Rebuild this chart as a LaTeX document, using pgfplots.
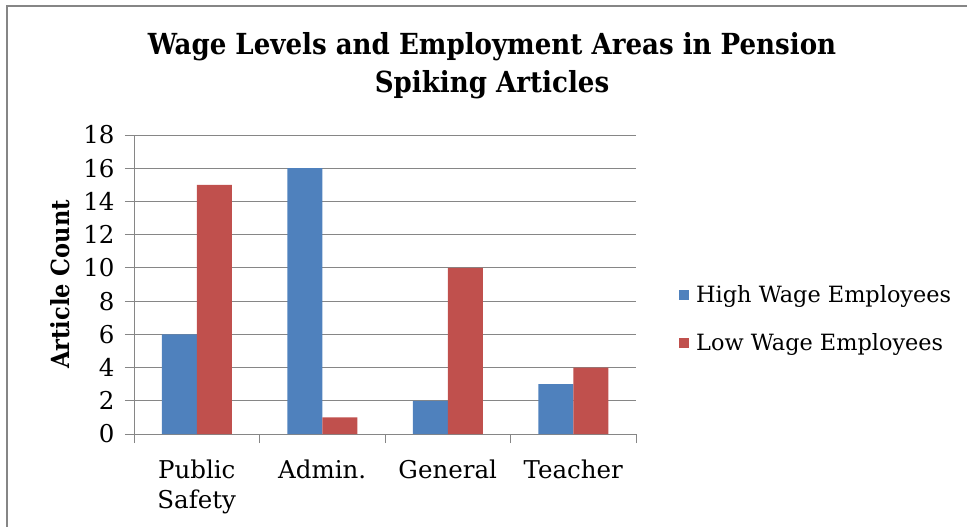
\documentclass[border=0pt]{standalone}
\usepackage{pgfplots}
\pgfplotsset{compat=1.18}
\usepackage{fontspec}
\setmainfont{DejaVu Serif}
\newfontfamily\condfont{DejaVu Serif Condensed}

\definecolor{hiwage}{HTML}{4F81BD}
\definecolor{lowwage}{HTML}{C0504D}
\definecolor{gridgray}{HTML}{868686}

\begin{document}
\begin{tikzpicture}[x=1pt,y=-1pt]
\path[use as bounding box] (0,0) rectangle (967,527);
% chart frame
\draw[gridgray, line width=2pt] (7,530) -- (7,6) -- (970,6);
% title
\node[align=center, font=\condfont\bfseries\fontsize{29}{38}\selectfont] at (492,66)
  {Wage Levels and Employment Areas in Pension\\Spiking Articles};
\begin{axis}[
  at={(134pt,-434pt)}, anchor=south west,
  scale only axis, width=502pt, height=299pt,
  ybar=0pt, bar width=35pt,
  xmin=-0.5, xmax=3.5, ymin=0, ymax=18,
  xtick={-0.5,0.5,1.5,2.5,3.5},
  x tick label as interval,
  xticklabels={{Public\\Safety},{Admin.},{General},{Teacher}},
  ytick={0,2,...,18},
  /pgf/number format/assume math mode=true,
  ymajorgrids, grid style={gridgray, line width=1pt},
  axis x line*=bottom, axis y line*=left,
  axis line style={gridgray, line width=1pt, -},
  tick style={gridgray, line width=1pt},
  tick align=outside, major tick length=9pt,
  tick label style={font=\fontsize{24.5}{30}\selectfont},
  x tick label style={align=center, yshift=-13pt},
  y tick label style={xshift=-7pt},
  ylabel={Article Count},
  every axis y label/.style={at={(axis description cs:-0.147,0.5)}, rotate=90,
    anchor=center, font=\condfont\bfseries\fontsize{25}{30}\selectfont},
  legend style={at={(axis description cs:1,0.385)}, anchor=west, xshift=40pt,
    draw=none, fill=none, font=\fontsize{22.4}{26}\selectfont, row sep=25pt,
    nodes={inner xsep=7pt}},
  legend cell align=left,
  legend image code/.code={\fill[#1,draw=none] (0pt,-5pt) rectangle (10pt,5pt);},
]
\addplot[fill=hiwage, draw=none] coordinates {(0,6) (1,16) (2,2) (3,3)};
\addplot[fill=lowwage, draw=none] coordinates {(0,15) (1,1) (2,10) (3,4)};
\legend{High Wage Employees, Low Wage Employees}
\end{axis}
\end{tikzpicture}
\end{document}
